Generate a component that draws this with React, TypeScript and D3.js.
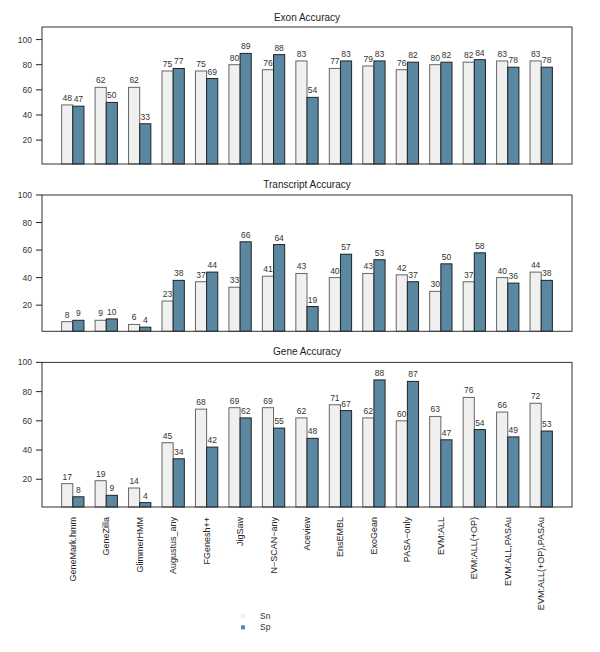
import React from "react";
import * as d3 from "d3";

const categories = [
  "GeneMark.hmm", "GeneZilla", "GlimmerHMM", "Augustus_any", "FGenesh++", "JigSaw",
  "N\u2212SCAN\u2212any", "Aceview", "EnsEMBL", "ExoGean", "PASA\u2212only", "EVM:ALL",
  "EVM:ALL(+OP)", "EVM:ALL,PASAu", "EVM:ALL(+OP),PASAu",
];
const exonSn = [48, 62, 62, 75, 75, 80, 76, 83, 77, 79, 76, 80, 82, 83, 83];
const exonSp = [47, 50, 33, 77, 69, 89, 88, 54, 83, 83, 82, 82, 84, 78, 78];
const transcriptSn = [8, 9, 6, 23, 37, 33, 41, 43, 40, 43, 42, 30, 37, 40, 44];
const transcriptSp = [9, 10, 4, 38, 44, 66, 64, 19, 57, 53, 37, 50, 58, 36, 38];
const geneSn = [17, 19, 14, 45, 68, 69, 69, 62, 71, 62, 60, 63, 76, 66, 72];
const geneSp = [8, 9, 4, 34, 42, 62, 55, 48, 67, 88, 87, 47, 54, 49, 53];
const yTicks = [20, 40, 60, 80, 100];
const seriesNames = ["Sn", "Sp"];

const SN_FILL = "#f0f0f0";
const SP_FILL = "#5a87a1";
const FONT = "'Liberation Sans', Arial, Helvetica, sans-serif";

const BOX_L = 42;
const BOX_R = 572;

const panels = [
  { title: "Exon Accuracy", sn: exonSn, sp: exonSp, top: 27, bottom: 164, ymax: 110, titleY: 21 },
  { title: "Transcript Accuracy", sn: transcriptSn, sp: transcriptSp, top: 195, bottom: 331.3, ymax: 100, titleY: 188 },
  { title: "Gene Accuracy", sn: geneSn, sp: geneSp, top: 362.4, bottom: 507, ymax: 100, titleY: 355 },
];

export default function App() {
  const n = categories.length;
  const total = 3 * n;
  const ext = (total - 1) * 0.04;
  const x = d3.scaleLinear().domain([1 - ext, total + ext]).range([BOX_L, BOX_R]);

  return (
    <svg width={600} height={652} style={{ position: "absolute", left: 0, top: 0, fontFamily: FONT }}>
      <rect width={600} height={652} fill="#ffffff" />
      {panels.map((p, pi) => {
        const y = d3.scaleLinear().domain([1, p.ymax]).range([p.bottom, p.top]);
        return (
          <g key={pi}>
            <text x={(BOX_L + BOX_R) / 2} y={p.titleY} textAnchor="middle" fontSize={10} fill="#222">
              {p.title}
            </text>
            {categories.map((c, i) => {
              const sx = x(1 + 3 * i);
              const mx = x(2 + 3 * i);
              const ex = x(3 + 3 * i);
              const ySn = y(p.sn[i]);
              const ySp = y(p.sp[i]);
              return (
                <g key={c}>
                  <rect x={sx} y={ySn} width={mx - sx} height={p.bottom - ySn} fill={SN_FILL} stroke="#666" strokeWidth={1} />
                  <rect x={mx} y={ySp} width={ex - mx} height={p.bottom - ySp} fill={SP_FILL} stroke="#222" strokeWidth={1} />
                  <text x={(sx + mx) / 2} y={ySn - 4} textAnchor="middle" fontSize={8.5} fill="#333">{p.sn[i]}</text>
                  <text x={(mx + ex) / 2} y={ySp - 4} textAnchor="middle" fontSize={8.5} fill="#333">{p.sp[i]}</text>
                </g>
              );
            })}
            <rect x={BOX_L} y={p.top} width={BOX_R - BOX_L} height={p.bottom - p.top} fill="none" stroke="#333" strokeWidth={1} />
            {yTicks.map((t) => (
              <g key={t}>
                <line x1={BOX_L - 6} x2={BOX_L} y1={y(t)} y2={y(t)} stroke="#222" />
                <text x={BOX_L - 10} y={y(t)} dy="0.35em" textAnchor="end" fontSize={8.5} fill="#333">{t}</text>
              </g>
            ))}
          </g>
        );
      })}
      {categories.map((c, i) => {
        const cx = x(2 + 3 * i);
        return (
          <text key={c} transform={`translate(${cx + 3},517) rotate(-90)`} textAnchor="end" fontSize={9} fill="#222">
            {c}
          </text>
        );
      })}
      {seriesNames.map((s, i) => (
        <g key={s}>
          <rect x={241} y={614 + i * 11.3} width={4} height={4} fill={i === 0 ? SN_FILL : SP_FILL} />
          <text x={260} y={616 + i * 11.3} dy="0.35em" fontSize={8.5} fill="#333">{s}</text>
        </g>
      ))}
    </svg>
  );
}
